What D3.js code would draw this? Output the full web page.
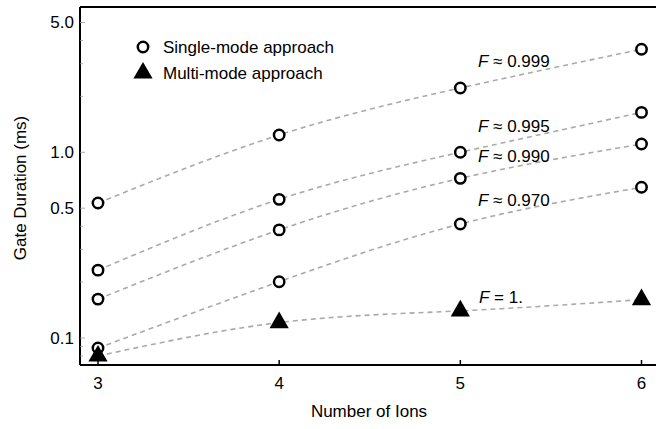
<!DOCTYPE html>
<html>
<head>
<meta charset="utf-8">
<script src="https://cdn.jsdelivr.net/npm/d3@7"></script>
<style>
  body { margin: 0; background: #fff; }
  text { font-family: Arial, "Liberation Sans", sans-serif; }
</style>
</head>
<body>
<div id="chart"></div>
<script>
// Data
const ions = [3, 4, 5, 6];
const f999 = [0.533, 1.24, 2.22, 3.59];
const f995 = [0.232, 0.558, 1.0, 1.64];
const f990 = [0.162, 0.382, 0.724, 1.108];
const f970 = [0.0883, 0.201, 0.411, 0.648];
const multi = [0.080, 0.121, 0.140, 0.161];
const fLabels = ["0.999", "0.995", "0.990", "0.970"];
const yMajor = [0.1, 0.5, 1.0, 5.0];
const yMinor = [0.08, 0.09, 0.2, 0.3, 0.4, 2, 3, 4];

const width = 656;
const height = 429;
const fs = 17; // font size used throughout

const svg = d3
  .select("#chart")
  .append("svg")
  .attr("width", width)
  .attr("height", height);

const x = d3.scaleLinear().domain([3, 6]).range([98, 641.5]);
const y = d3.scaleLog().domain([0.1, 5]).range([338, 22.5]);

const frameL = 80, frameT = 7, frameB = 365;

const line = d3
  .line()
  .x((d) => x(d[0]))
  .y((d) => y(d[1]))
  .curve(d3.curveNatural);

const single = [f999, f995, f990, f970];

// dashed fit curves
[...single, multi].forEach((s) => {
  svg
    .append("path")
    .datum(ions.map((n, i) => [n, s[i]]))
    .attr("d", line)
    .attr("fill", "none")
    .attr("stroke", "#aaa")
    .attr("stroke-width", 1.6)
    .attr("stroke-dasharray", "5,4");
});

// frame
svg.append("line").attr("x1", frameL).attr("x2", width).attr("y1", frameT).attr("y2", frameT)
  .attr("stroke", "#000").attr("stroke-width", 2);
svg.append("line").attr("x1", frameL).attr("x2", width).attr("y1", frameB).attr("y2", frameB)
  .attr("stroke", "#000").attr("stroke-width", 2);
svg.append("line").attr("x1", frameL).attr("x2", frameL).attr("y1", frameT).attr("y2", frameB)
  .attr("stroke", "#000").attr("stroke-width", 2);

// y ticks
svg.selectAll("line.ymaj").data(yMajor).enter().append("line")
  .attr("x1", frameL).attr("x2", frameL + 5)
  .attr("y1", (d) => y(d)).attr("y2", (d) => y(d))
  .attr("stroke", "#999").attr("stroke-width", 0.8);
svg.selectAll("line.ymin").data(yMinor).enter().append("line")
  .attr("x1", frameL).attr("x2", frameL + 3)
  .attr("y1", (d) => y(d)).attr("y2", (d) => y(d))
  .attr("stroke", "#999").attr("stroke-width", 0.8);
svg.selectAll("text.ylab").data(yMajor).enter().append("text")
  .attr("x", frameL - 6).attr("y", (d) => y(d))
  .attr("dy", "0.35em")
  .attr("text-anchor", "end")
  .attr("font-size", fs)
  .text((d) => d3.format(".1f")(d));

// x ticks
svg.selectAll("line.xt").data(ions).enter().append("line")
  .attr("x1", (d) => x(d)).attr("x2", (d) => x(d))
  .attr("y1", frameB).attr("y2", frameB - 5)
  .attr("stroke", "#000").attr("stroke-width", 1.5);
svg.selectAll("text.xlab").data(ions).enter().append("text")
  .attr("x", (d) => x(d)).attr("y", 383)
  .attr("dy", "0.35em")
  .attr("text-anchor", "middle")
  .attr("font-size", fs)
  .text((d) => d);

// axis titles
svg.append("text")
  .attr("x", 369).attr("y", 411)
  .attr("dy", "0.35em")
  .attr("text-anchor", "middle")
  .attr("font-size", fs)
  .text("Number of Ions");
svg.append("text")
  .attr("transform", "translate(20,188) rotate(-90)")
  .attr("dy", "0.35em")
  .attr("text-anchor", "middle")
  .attr("font-size", fs)
  .text("Gate Duration (ms)");

// markers
const tri = d3.symbol().type(d3.symbolTriangle).size(160);

single.forEach((s) => {
  svg.selectAll(null).data(ions).enter().append("circle")
    .attr("cx", (d) => x(d))
    .attr("cy", (d, i) => y(s[i]))
    .attr("r", 5.2)
    .attr("fill", "#fff")
    .attr("stroke", "#000")
    .attr("stroke-width", 2.5);
});
svg.selectAll("path.tri").data(ions).enter().append("path")
  .attr("class", "tri")
  .attr("d", tri)
  .attr("transform", (d, i) => `translate(${x(d)},${y(multi[i])})`)
  .attr("fill", "#000");

// fidelity labels
const labelY = [67, 132, 162, 206];
fLabels.forEach((f, i) => {
  const t = svg.append("text").attr("x", 478).attr("y", labelY[i]).attr("font-size", fs);
  t.append("tspan").attr("font-style", "italic").text("F");
  t.append("tspan").text(" \u2248 " + f);
});
const t1 = svg.append("text").attr("x", 479).attr("y", 303).attr("font-size", fs);
t1.append("tspan").attr("font-style", "italic").text("F");
t1.append("tspan").text(" = 1.");

// legend
svg.append("circle").attr("cx", 143).attr("cy", 47).attr("r", 5.2)
  .attr("fill", "#fff").attr("stroke", "#000").attr("stroke-width", 2.5);
svg.append("path").attr("d", tri).attr("transform", "translate(143,73)").attr("fill", "#000");
svg.append("text").attr("x", 163).attr("y", 47).attr("dy", "0.35em")
  .attr("font-size", fs).text("Single-mode approach");
svg.append("text").attr("x", 163).attr("y", 73).attr("dy", "0.35em")
  .attr("font-size", fs).text("Multi-mode approach");
</script>
</body>
</html>
